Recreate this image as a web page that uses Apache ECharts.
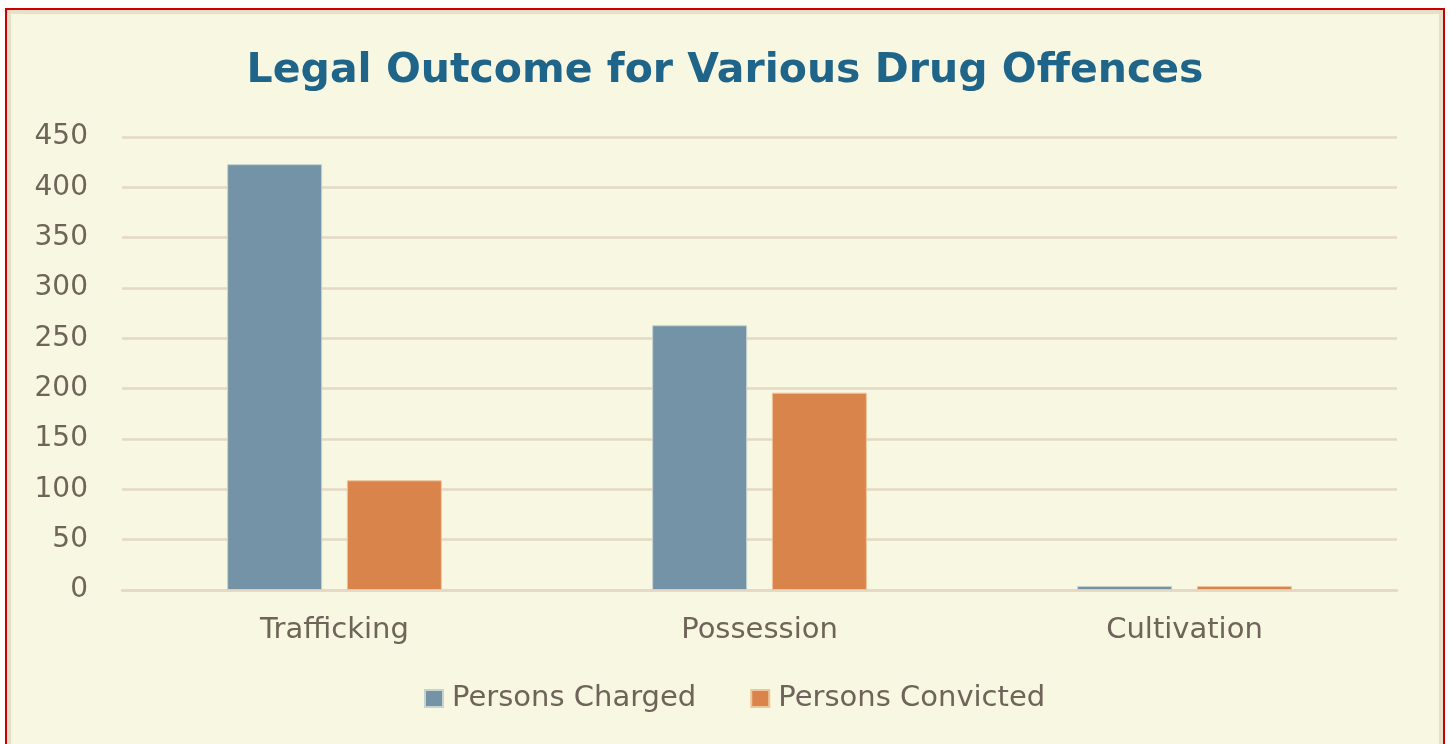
<!DOCTYPE html>
<html>
<head>
<meta charset="utf-8">
<script src="https://cdn.jsdelivr.net/npm/echarts@6/dist/echarts.min.js"></script>
<style>
  html, body { margin: 0; padding: 0; width: 1450px; height: 744px; overflow: hidden; background: #ffffff; }
  #frame { position: absolute; left: 5px; top: 8px; width: 1440px; height: 780px; box-sizing: border-box; border: 2px solid #cc0000; }
  #inner { position: absolute; left: 0; top: 0; right: 0; bottom: 0; border: 4px solid #e9dec8; background: #f8f7e1; }
  #chart { position: absolute; left: 0; top: 0; width: 1428px; height: 760px; }
</style>
</head>
<body>
<div id="frame"><div id="inner"><div id="chart"></div></div></div>
<script>
const categories = ['Trafficking', 'Possession', 'Cultivation'];
const personsCharged = [423, 263, 4];
const personsConvicted = [109, 196, 4];
const seriesNames = ['Persons Charged', 'Persons Convicted'];
const titleText = 'Legal Outcome for Various Drug Offences';

const labelColor = '#6e6459';
const chart = echarts.init(document.getElementById('chart'), null, { renderer: 'canvas' });
chart.setOption({
  backgroundColor: 'transparent',
  animation: false,
  title: {
    text: titleText,
    left: 'center',
    top: 32,
    textStyle: { fontFamily: 'DejaVu Sans', fontWeight: 'bold', fontSize: 41, color: '#1f6489' }
  },
  legend: {
    data: seriesNames,
    left: 408,
    top: 665,
    itemWidth: 18,
    itemHeight: 17,
    itemGap: 54,
    icon: 'rect',
    textStyle: { fontFamily: 'DejaVu Sans', fontSize: 29, color: labelColor, padding: [0, 0, 0, 4] }
  },
  grid: { left: 111, right: 42, top: 123, height: 453, containLabel: false },
  xAxis: {
    type: 'category',
    data: categories,
    axisLine: { show: true, lineStyle: { color: '#e5d8c4', width: 2.5 } },
    axisTick: { show: false },
    axisLabel: { margin: 26, fontFamily: 'DejaVu Sans', fontSize: 29, color: labelColor }
  },
  yAxis: {
    type: 'value',
    min: 0,
    max: 450,
    interval: 50,
    axisLine: { show: false },
    axisTick: { show: false },
    axisLabel: { margin: 34, fontFamily: 'DejaVu Sans', fontSize: 28, color: labelColor },
    splitLine: { lineStyle: { color: '#e5d8c4', width: 2.5 } }
  },
  series: [
    {
      name: seriesNames[0],
      type: 'bar',
      data: personsCharged,
      barWidth: 95,
      barGap: '26%',
      itemStyle: { color: '#7593a6', borderColor: '#c6d3cf', borderWidth: 1 }
    },
    {
      name: seriesNames[1],
      type: 'bar',
      data: personsConvicted,
      barWidth: 95,
      barGap: '26%',
      itemStyle: { color: '#d9844b', borderColor: '#efc59c', borderWidth: 1 }
    }
  ]
});
</script>
</body>
</html>
